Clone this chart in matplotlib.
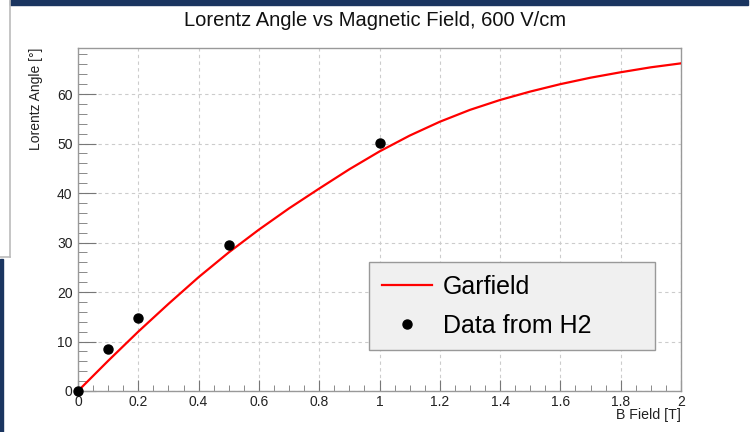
import matplotlib
matplotlib.use('Agg')
import matplotlib.pyplot as plt
from matplotlib.patches import Rectangle
from matplotlib.lines import Line2D
from matplotlib.ticker import MultipleLocator, FuncFormatter

plt.rcParams['font.family'] = ['Liberation Sans', 'DejaVu Sans']

# Garfield simulation curve
b_sim = [0.0, 0.1, 0.2, 0.3, 0.4, 0.5, 0.6, 0.7, 0.8, 0.9, 1.0,
         1.1, 1.2, 1.3, 1.4, 1.5, 1.6, 1.7, 1.8, 1.9, 2.0]
angle_sim = [0.0, 6.1, 12.0, 17.6, 23.0, 28.0, 32.6, 36.9, 40.9, 44.8, 48.4,
             51.6, 54.4, 56.8, 58.8, 60.5, 62.0, 63.3, 64.4, 65.4, 66.2]

# measured points
b_data = [0.0, 0.1, 0.2, 0.5, 1.0]
angle_data = [0.0, 8.4, 14.8, 29.5, 50.2]

W, H = 751, 432
fig = plt.figure(figsize=(W / 100, H / 100), dpi=100)

# screenshot bits around the canvas
fig.patches.append(Rectangle((10 / W, 1 - 5 / H), 738 / W, 5 / H,
                             transform=fig.transFigure, color='#1a3560', zorder=0))
fig.lines.append(Line2D([10 / W, 10 / W], [1, 1 - 257 / H], transform=fig.transFigure,
                        color='#bbbbbb', lw=1.2))
fig.lines.append(Line2D([0, 10 / W], [1 - 257 / H, 1 - 257 / H], transform=fig.transFigure,
                        color='#bbbbbb', lw=1.2))
fig.patches.append(Rectangle((0, 0), 3 / W, 1 - 259 / H,
                             transform=fig.transFigure, color='#1a3560', zorder=0))

ax = fig.add_axes([78 / W, 41 / H, 603 / W, 343 / H])
ax.set_xlim(0, 2)
ax.set_ylim(0, 69.3)

ax.plot(b_sim, angle_sim, color='#ff0000', lw=1.6, label='Garfield', zorder=3)
ax.plot(b_data, angle_data, 'o', color='black', ms=6.5, label='Data from H2',
        clip_on=False, zorder=4)

ax.xaxis.set_major_locator(MultipleLocator(0.2))
ax.xaxis.set_minor_locator(MultipleLocator(0.05))
ax.xaxis.set_major_formatter(FuncFormatter(lambda v, p: '%g' % round(v, 2)))
ax.yaxis.set_major_locator(MultipleLocator(10))
ax.yaxis.set_minor_locator(MultipleLocator(2))
ax.grid(True, which='major', color='#cccccc', ls=(0, (3, 3)), lw=0.8)
ax.set_axisbelow(True)

ax.tick_params(which='both', direction='in', colors='#777777', labelcolor='#222222',
               labelsize=10, top=False, right=False)
ax.tick_params(axis='y', which='major', length=13, pad=4)
ax.tick_params(axis='y', which='minor', length=6.5)
ax.tick_params(axis='x', which='major', length=8, pad=3)
ax.tick_params(axis='x', which='minor', length=4)
for s in ax.spines.values():
    s.set_color('#999999')
    s.set_linewidth(1.0)

leg = ax.legend(loc='upper left', bbox_to_anchor=(0.4826, 0.1137, 0.4743, 0.2623),
                mode='expand', fontsize=18, handlelength=2.0, handletextpad=0.45,
                borderpad=0.5, labelspacing=0.6, fancybox=False, framealpha=1,
                facecolor='#f0f0f0', edgecolor='#999999', borderaxespad=0)
leg.get_frame().set_linewidth(1.0)

fig.text(0.5, 1 - 26 / H, 'Lorentz Angle vs Magnetic Field, 600 V/cm',
         ha='center', va='baseline', fontsize=14.5, color='#111111')
fig.text(36 / W, 1 - 48 / H, 'Lorentz Angle [°]', rotation=90,
         ha='center', va='top', fontsize=10, color='#222222')
fig.text(681 / W, 1 - 415 / H, 'B Field [T]', ha='right', va='center',
         fontsize=10.2, color='#222222')

fig.savefig('out.png', dpi=100)
